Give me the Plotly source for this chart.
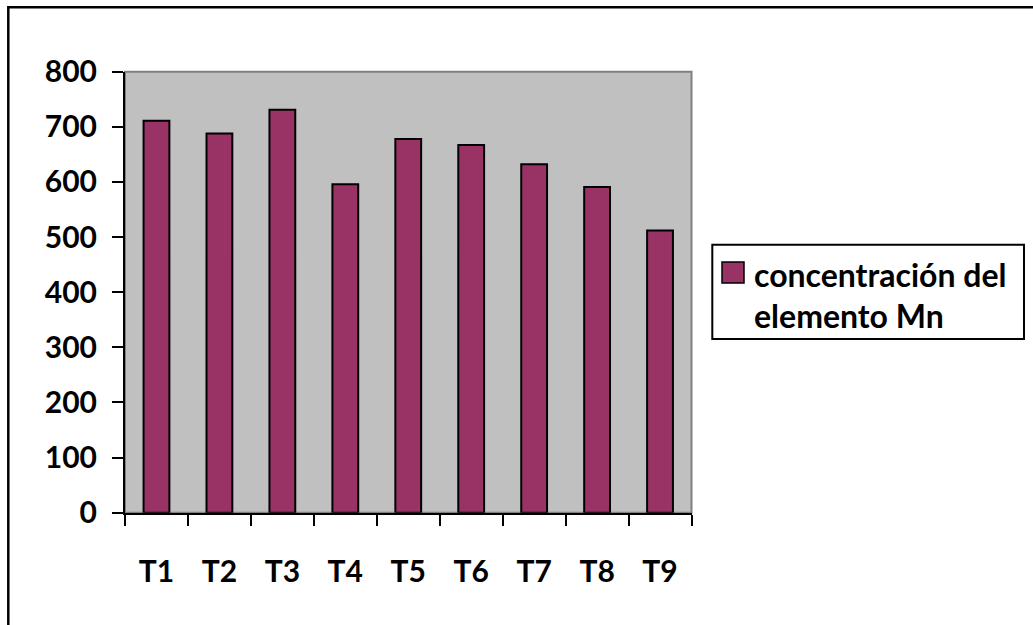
import plotly.graph_objects as go

# Mn concentration per treatment
categories = ["T1", "T2", "T3", "T4", "T5", "T6", "T7", "T8", "T9"]
mn_values = [711, 688, 731, 596, 678, 667, 632, 591, 512]
series_lines = ["concentración del", "elemento Mn"]
y_ticks = [0, 100, 200, 300, 400, 500, 600, 700, 800]

W, H = 1033, 625
BAR_COLOR = "#993366"
FONT = dict(family="Lato, 'Liberation Sans', sans-serif", size=30, color="black", weight="bold")
LEGEND_FONT = dict(FONT, size=32)


def px_x(p):
    return p / W


def px_y(p):
    return 1 - p / H


x_dom = [px_x(125), px_x(691.5)]
y_dom = [px_y(512.7), px_y(71.7)]

fig = go.Figure()
fig.add_trace(go.Bar(
    x=categories, y=mn_values, name=" ".join(series_lines),
    marker=dict(color=BAR_COLOR, line=dict(color="black", width=2)),
    width=0.41, showlegend=False,
))

fig.update_layout(
    width=W, height=H, autosize=False,
    margin=dict(l=0, r=0, t=0, b=0, pad=0, autoexpand=False),
    paper_bgcolor="white", plot_bgcolor="#C0C0C0",
    showlegend=False,
    xaxis=dict(
        domain=x_dom, type="category", range=[-0.5, 8.5], automargin=False,
        showline=True, linecolor="black", linewidth=2,
        ticks="outside", tickson="boundaries", ticklen=11, tickwidth=2, tickcolor="black",
        tickfont=FONT, ticklabelstandoff=31, showgrid=False, zeroline=False,
    ),
    yaxis=dict(
        domain=y_dom, range=[0, 800], tickvals=y_ticks, automargin=False,
        showline=True, linecolor="black", linewidth=2,
        ticks="outside", ticklen=11, tickwidth=2, tickcolor="black",
        tickfont=FONT, ticklabelstandoff=9, showgrid=False, zeroline=False,
    ),
    # companion axes carrying the inner half of the crossing tick marks
    xaxis2=dict(
        domain=x_dom, overlaying="x", anchor="y", side="bottom", automargin=False,
        range=[-0.5, 8.5], tickvals=[i - 0.5 for i in range(len(categories) + 1)],
        ticks="inside", ticklen=11, tickwidth=2, tickcolor="black",
        showticklabels=False, showgrid=False, zeroline=False, showline=False,
    ),
    yaxis2=dict(
        domain=y_dom, overlaying="y", anchor="x", side="left", automargin=False,
        range=[0, 800], tickvals=y_ticks,
        ticks="inside", ticklen=11, tickwidth=2, tickcolor="black",
        showticklabels=False, showgrid=False, zeroline=False, showline=False,
    ),
)

shapes = [
    # grey frame on the top and right of the plot area
    dict(type="rect", xref="x domain", yref="y domain", x0=0, x1=1, y0=0, y1=1,
         line=dict(color="#808080", width=2), layer="below"),
    # outer chart border
    dict(type="rect", xref="paper", yref="paper",
         x0=px_x(8.3), x1=px_x(1045), y0=px_y(7.3), y1=px_y(640),
         line=dict(color="black", width=2.5)),
    # legend box
    dict(type="rect", xref="paper", yref="paper",
         x0=px_x(712.3), x1=px_x(1024), y0=px_y(244.7), y1=px_y(339),
         line=dict(color="black", width=2), fillcolor="white"),
    # legend swatch
    dict(type="rect", xref="paper", yref="paper",
         x0=px_x(722), x1=px_x(744), y0=px_y(262), y1=px_y(283),
         line=dict(color="black", width=1.5), fillcolor=BAR_COLOR),
]
fig.update_layout(shapes=shapes)

# legend label, one annotation per line
for line_text, y_center in zip(series_lines, [274, 315]):
    fig.add_annotation(
        xref="paper", yref="paper", x=px_x(752), y=px_y(y_center),
        xanchor="left", yanchor="middle", align="left",
        text=line_text, showarrow=False, font=LEGEND_FONT,
    )

fig.write_html("out.html", post_script="document.body.style.margin='0';")
